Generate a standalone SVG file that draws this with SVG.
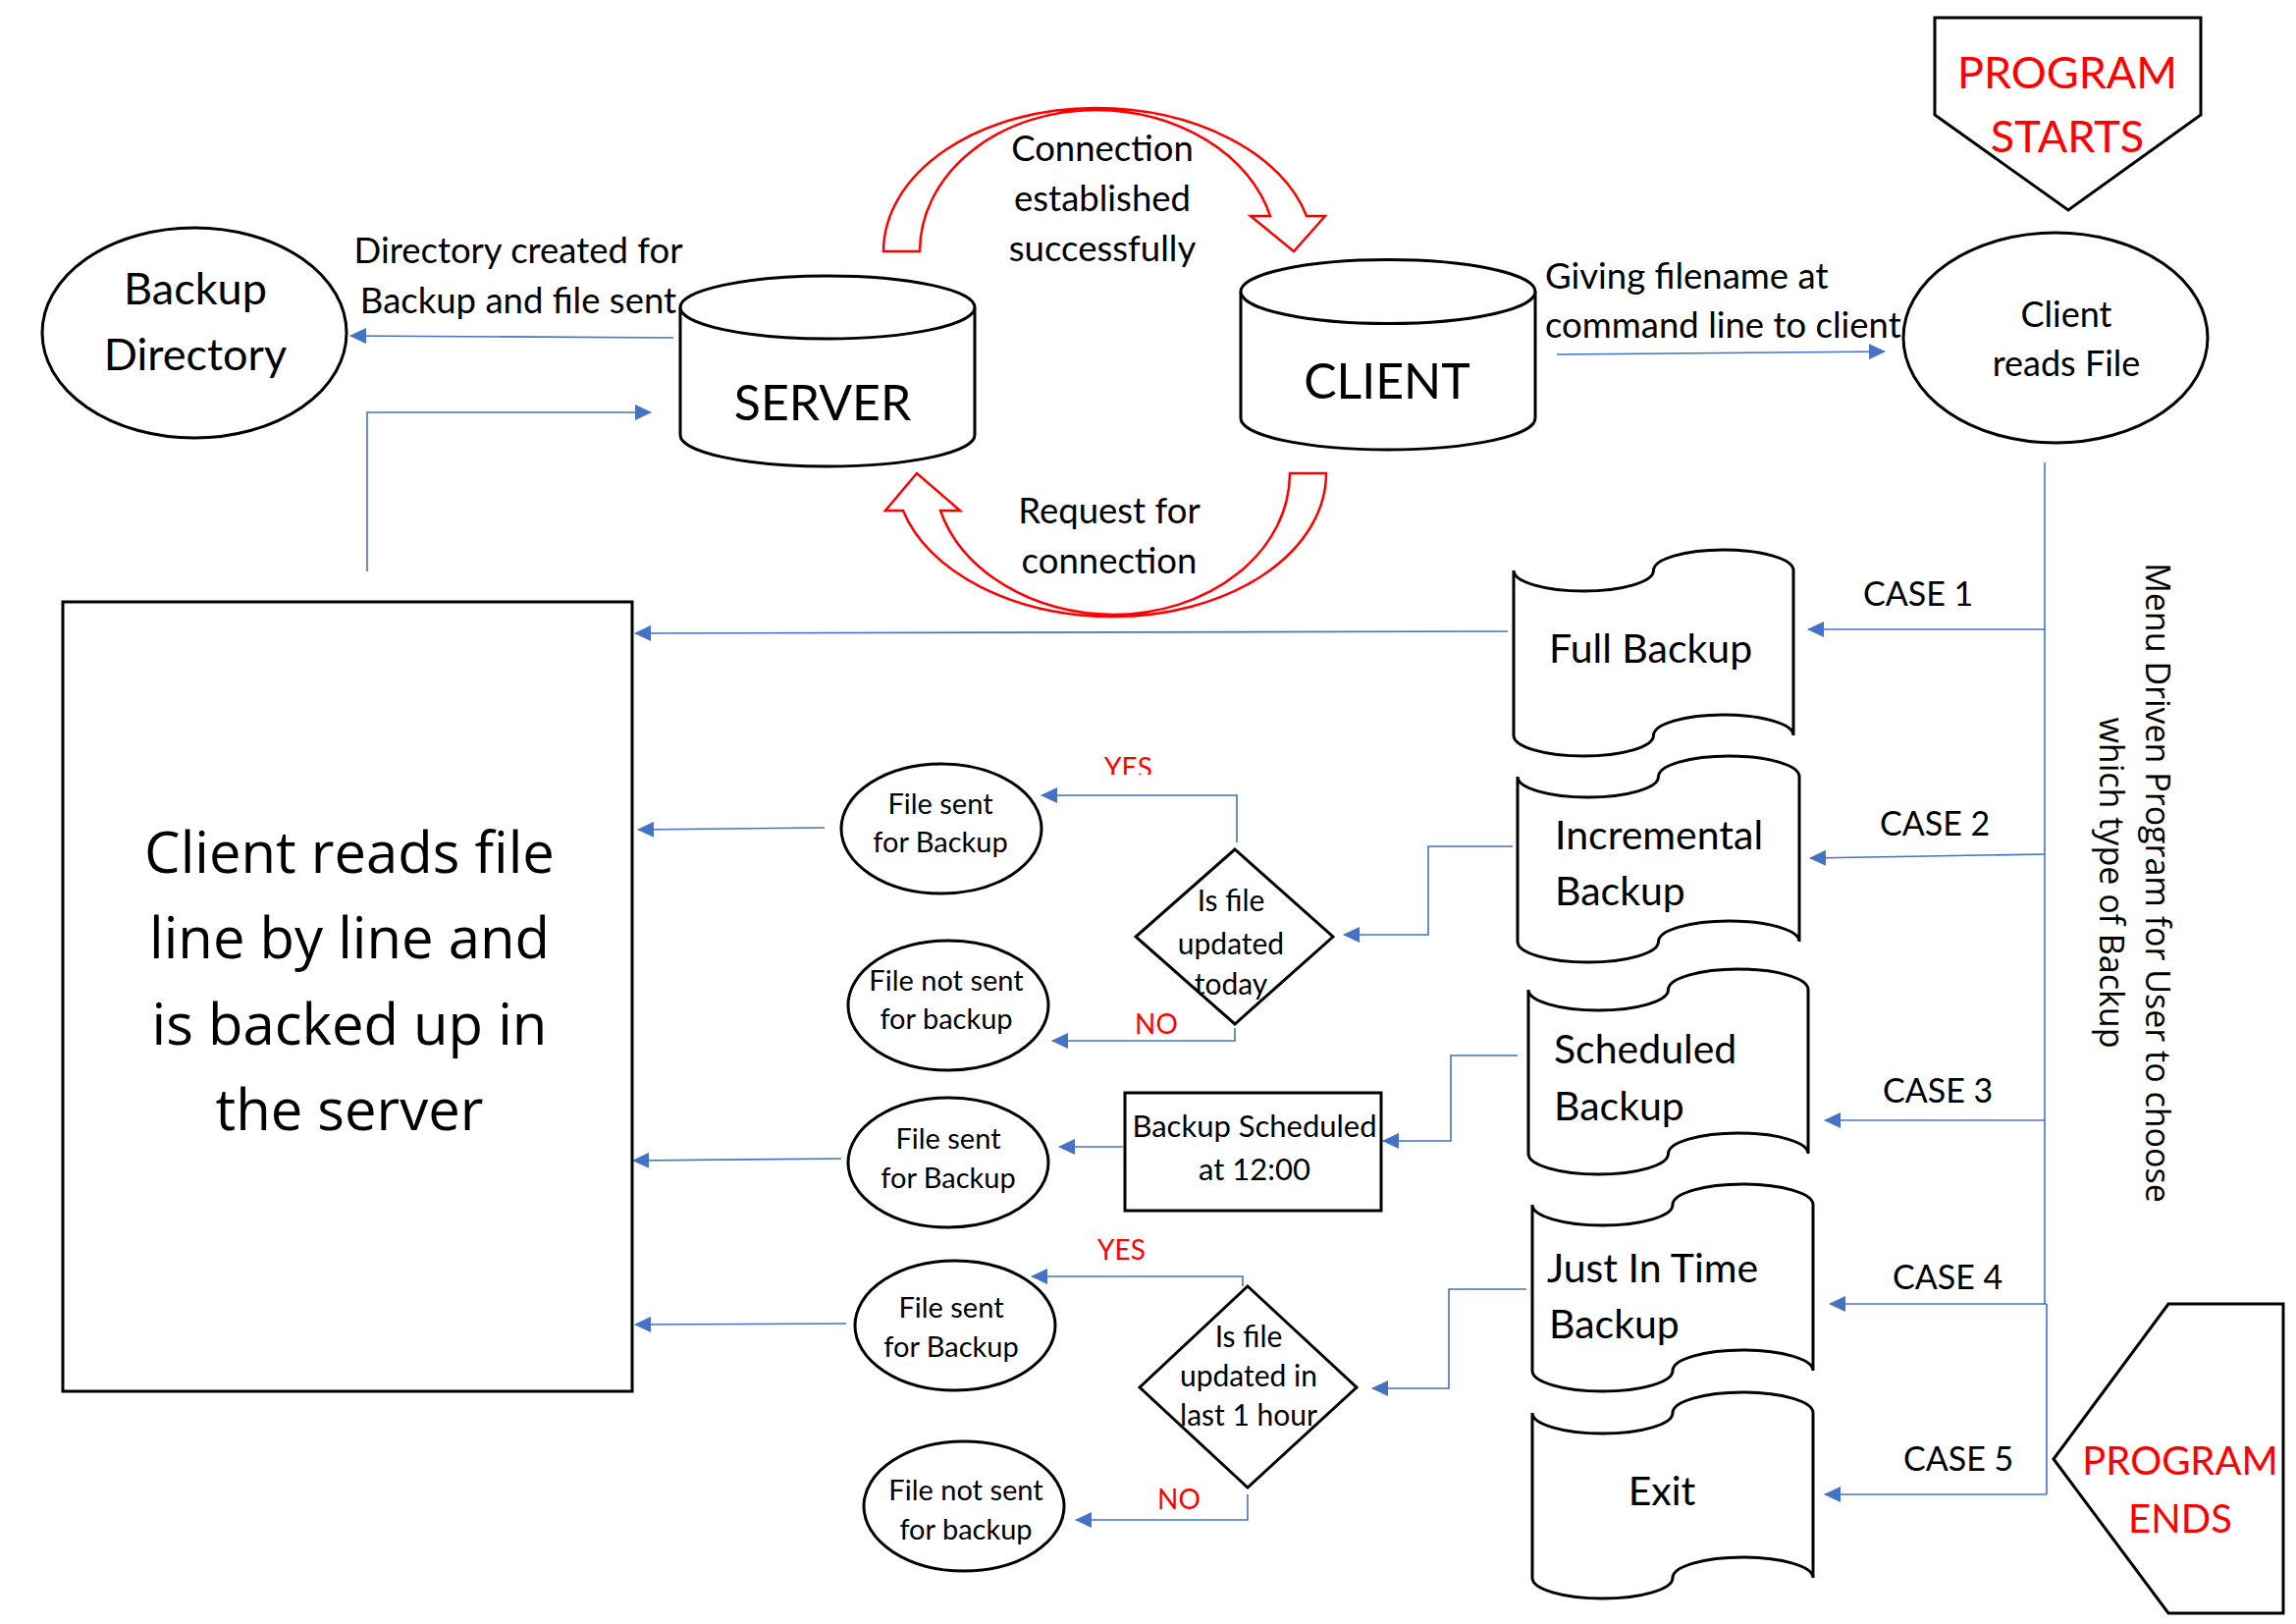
<svg xmlns="http://www.w3.org/2000/svg" width="2339" height="1654" viewBox="0 0 2339 1654">
<style>
.c{font-family:Lato,"Liberation Sans",sans-serif;fill:#000}
.s{font-family:"Open Sans","Noto Sans",sans-serif;fill:#000}
.m{text-anchor:middle}
.red{fill:#FF0000}
.shape{fill:#fff;stroke:#000;stroke-width:3}
.ln{fill:none;stroke:#4472C4;stroke-width:1.6}
.arr{marker-end:url(#ah)}
.blk{fill:#fff;stroke:#FF0000;stroke-width:2.5}
.lbl{font-size:36.5px}
.case{font-size:34px}
.doc{font-size:41px}
.sm{font-size:29px}
.yn{font-size:28px}
</style>
<defs>
<marker id="ah" markerWidth="17" markerHeight="16" refX="16" refY="8" orient="auto" markerUnits="userSpaceOnUse"><path d="M0,0 L17,8 L0,16 Z" fill="#4472C4"/></marker>
<clipPath id="yesclip"><rect x="1100" y="760" width="100" height="29"/></clipPath>
</defs>
<rect width="2339" height="1654" fill="#fff"/>

<g id="connectors">
<path class="blk" d="M900,256 A216,146 0 0 1 1116,110 A222,146 0 0 1 1331,220 L1350,220 L1318,256 L1274,220 L1294,220 A185,144 0 0 0 1116,112 A179,144 0 0 0 937,256 Z"/>
<path class="blk" d="M1351,482 A217,146 0 0 1 1134,628 A222,146 0 0 1 920,520 L902,520 L934,482 L978,520 L958,520 A185,144 0 0 0 1134,626 A180,144 0 0 0 1314,482 Z"/>
<path class="ln arr" d="M686,344 L357,342"/>
<path class="ln arr" d="M374,582 L374,420 L663,420"/>
<path class="ln arr" d="M1586,361 L1920,358"/>
<path class="ln" d="M2083,471 L2083,1328"/>
<path class="ln" d="M2085,1328 L2085,1522"/>
<path class="ln arr" d="M2083,641 L1842,641"/>
<path class="ln arr" d="M2083,870 L1844,874"/>
<path class="ln arr" d="M2083,1141 L1859,1141"/>
<path class="ln arr" d="M2085,1328 L1864,1328"/>
<path class="ln arr" d="M2085,1522 L1859,1522"/>
<path class="ln arr" d="M1536,643 L647,645"/>
<path class="ln arr" d="M1541,862 L1455,862 L1455,952 L1369,952"/>
<path class="ln arr" d="M1260,858 L1260,810 L1061,810"/>
<path class="ln arr" d="M1258,1047 L1258,1060 L1072,1060"/>
<path class="ln arr" d="M840,843 L650,845"/>
<path class="ln arr" d="M1546,1075 L1478,1075 L1478,1162 L1409,1162"/>
<path class="ln arr" d="M1144,1168 L1079,1168"/>
<path class="ln arr" d="M857,1180 L645,1182"/>
<path class="ln arr" d="M1555,1313 L1476,1313 L1476,1414 L1398,1414"/>
<path class="ln arr" d="M1266,1310 L1266,1300 L1051,1300"/>
<path class="ln arr" d="M1271,1522 L1271,1548 L1096,1548"/>
<path class="ln arr" d="M862,1348 L647,1349"/>
<text class="c lbl m" x="528" y="268">Directory created for</text>
<text class="c lbl m" x="528" y="319">Backup and file sent</text>
<text class="c lbl m" x="1123" y="164">Connection</text>
<text class="c lbl m" x="1123" y="215">established</text>
<text class="c lbl m" x="1123" y="266">successfully</text>
<text class="c lbl m" x="1130" y="533">Request for</text>
<text class="c lbl m" x="1130" y="584">connection</text>
<text class="c lbl" x="1574" y="294">Giving filename at</text>
<text class="c lbl" x="1574" y="344">command line to client</text>
<text class="c case" x="1898" y="617">CASE 1</text>
<text class="c case" x="1915" y="851">CASE 2</text>
<text class="c case" x="1918" y="1123">CASE 3</text>
<text class="c case" x="1928" y="1313">CASE 4</text>
<text class="c case" x="1939" y="1498">CASE 5</text>
<text class="c yn red" x="1125" y="792" clip-path="url(#yesclip)">YES</text>
<text class="c yn red" x="1156" y="1053">NO</text>
<text class="c yn red" x="1118" y="1283">YES</text>
<text class="c yn red" x="1179" y="1537">NO</text>
</g>

<g id="program-starts">
<path class="shape" d="M1971,18 L2242,18 L2242,117 L2107,214 L1971,117 Z"/>
<text class="c m red" font-size="45" x="2106" y="90">PROGRAM</text>
<text class="c m red" font-size="45" x="2106" y="155">STARTS</text>
</g>

<g id="program-ends">
<path class="shape" d="M2209,1328 L2326,1328 L2326,1643 L2209,1643 L2092,1486 Z"/>
<text class="c m red" font-size="40" x="2221" y="1502">PROGRAM</text>
<text class="c m red" font-size="40" x="2221" y="1561">ENDS</text>
</g>

<g id="backup-directory">
<ellipse class="shape" cx="198" cy="339" rx="155" ry="107"/>
<text class="c m" font-size="45" x="199" y="310">Backup</text>
<text class="c m" font-size="45" x="199" y="377">Directory</text>
</g>

<g id="server">
<path class="shape" d="M693,313 L693,443 A150,32 0 0 0 993,443 L993,313"/>
<ellipse class="shape" cx="843" cy="313" rx="150" ry="32"/>
<text class="c m" font-size="50" x="838" y="428">SERVER</text>
</g>

<g id="client">
<path class="shape" d="M1264,297 L1264,426 A150,32 0 0 0 1564,426 L1564,297"/>
<ellipse class="shape" cx="1414" cy="297" rx="150" ry="32.5"/>
<text class="c m" font-size="50" x="1413" y="406">CLIENT</text>
</g>

<g id="client-reads-file">
<ellipse class="shape" cx="2094" cy="344" rx="155" ry="107"/>
<text class="c m" font-size="36" x="2105" y="333">Client</text>
<text class="c m" font-size="36" x="2105" y="383">reads File</text>
</g>

<g id="menu-note">
<g transform="translate(2200,899) rotate(90)">
<text class="s m" font-size="34" x="0" y="14">Menu Driven Program for User to choose</text>
<text class="s m" font-size="34" x="0" y="61">which type of Backup</text>
</g>
</g>

<g id="full-backup">
<path class="shape" d="M1542,581 A71.25,21 0 0 0 1684.5,581 A71.25,21 0 0 1 1827,581 L1827,749 A71.25,21 0 0 0 1684.5,749 A71.25,21 0 0 1 1542,749 Z"/>
<text class="c doc" x="1578" y="675">Full Backup</text>
</g>

<g id="incremental-backup">
<path class="shape" d="M1546,791 A71.75,21 0 0 0 1689.5,791 A71.75,21 0 0 1 1833,791 L1833,959 A71.75,21 0 0 0 1689.5,959 A71.75,21 0 0 1 1546,959 Z"/>
<text class="c doc" x="1584" y="865">Incremental</text>
<text class="c doc" x="1584" y="922">Backup</text>
</g>

<g id="scheduled-backup">
<path class="shape" d="M1557,1008 A71.25,21 0 0 0 1699.5,1008 A71.25,21 0 0 1 1842,1008 L1842,1175 A71.25,21 0 0 0 1699.5,1175 A71.25,21 0 0 1 1557,1175 Z"/>
<text class="c doc" x="1583" y="1083">Scheduled</text>
<text class="c doc" x="1583" y="1141">Backup</text>
</g>

<g id="just-in-time-backup">
<path class="shape" d="M1561,1227 A71.5,21 0 0 0 1704,1227 A71.5,21 0 0 1 1847,1227 L1847,1396 A71.5,21 0 0 0 1704,1396 A71.5,21 0 0 1 1561,1396 Z"/>
<text class="c doc" x="1576" y="1306">Just In Time</text>
<text class="c doc" x="1578" y="1363">Backup</text>
</g>

<g id="exit">
<path class="shape" d="M1561,1439 A71.5,21 0 0 0 1704,1439 A71.5,21 0 0 1 1847,1439 L1847,1607 A71.5,21 0 0 0 1704,1607 A71.5,21 0 0 1 1561,1607 Z"/>
<text class="c doc m" x="1693" y="1533">Exit</text>
</g>

<g id="main-box">
<rect class="shape" x="64" y="613" width="580" height="804"/>
<text class="s m" font-size="58" x="356" y="889">Client reads file</text>
<text class="s m" font-size="58" x="356" y="976">line by line and</text>
<text class="s m" font-size="58" x="356" y="1064">is backed up in</text>
<text class="s m" font-size="58" x="356" y="1151">the server</text>
</g>

<g id="file-sent-1">
<ellipse class="shape" cx="959" cy="844" rx="102" ry="66"/>
<text class="c sm m" x="958" y="829">File sent</text>
<text class="c sm m" x="958" y="868">for Backup</text>
</g>

<g id="decision-today">
<path class="shape" d="M1258,865 L1358,954 L1258,1043 L1157,954 Z"/>
<text class="c m" font-size="30" x="1254" y="928">Is file</text>
<text class="c m" font-size="30" x="1254" y="972">updated</text>
<text class="c m" font-size="30" x="1254" y="1013">today</text>
</g>

<g id="file-not-sent-1">
<ellipse class="shape" cx="966" cy="1024" rx="102" ry="66"/>
<text class="c sm m" x="964" y="1009">File not sent</text>
<text class="c sm m" x="964" y="1048">for backup</text>
</g>

<g id="backup-scheduled">
<rect class="shape" x="1146" y="1113" width="261" height="120"/>
<text class="c m" font-size="31" x="1278" y="1158">Backup Scheduled</text>
<text class="c m" font-size="31" x="1278" y="1202">at 12:00</text>
</g>

<g id="file-sent-2">
<ellipse class="shape" cx="966" cy="1184" rx="102" ry="66"/>
<text class="c sm m" x="966" y="1170">File sent</text>
<text class="c sm m" x="966" y="1210">for Backup</text>
</g>

<g id="file-sent-3">
<ellipse class="shape" cx="973" cy="1350" rx="102" ry="66"/>
<text class="c sm m" x="969" y="1342">File sent</text>
<text class="c sm m" x="969" y="1382">for Backup</text>
</g>

<g id="decision-hour">
<path class="shape" d="M1271,1310 L1382,1413 L1271,1515 L1161,1413 Z"/>
<text class="c m" font-size="30" x="1272" y="1372">Is file</text>
<text class="c m" font-size="30" x="1272" y="1412">updated in</text>
<text class="c m" font-size="30" x="1272" y="1452">last 1 hour</text>
</g>

<g id="file-not-sent-2">
<ellipse class="shape" cx="982" cy="1534" rx="102" ry="66"/>
<text class="c sm m" x="984" y="1528">File not sent</text>
<text class="c sm m" x="984" y="1568">for backup</text>
</g>
</svg>
